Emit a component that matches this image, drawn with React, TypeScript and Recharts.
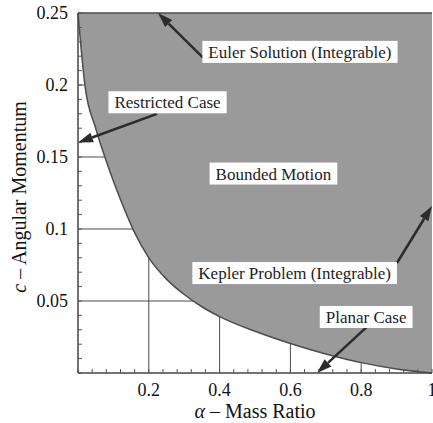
import { useLayoutEffect, useRef, useState } from "react";
import {
  Area,
  AreaChart,
  CartesianGrid,
  Label,
  ReferenceDot,
  ReferenceLine,
  XAxis,
  YAxis,
} from "recharts";

// boundary of the bounded-motion region
const alpha = [0, 0.02, 0.05, 0.08, 0.12, 0.16, 0.2, 0.25, 0.3, 0.35, 0.4, 0.5, 0.6, 0.7, 0.8, 0.9, 1];
const momentum = [0.25, 0.199, 0.17, 0.147, 0.1205, 0.0975, 0.08, 0.0652, 0.0545, 0.046, 0.0392, 0.029, 0.0205, 0.0132, 0.0072, 0.0028, 0];
const C_MAX = 0.25;

const xTicks = [
  0, 0.04, 0.08, 0.12, 0.16, 0.2, 0.24, 0.28, 0.32, 0.36, 0.4, 0.44, 0.48, 0.52, 0.56, 0.6, 0.64,
  0.68, 0.72, 0.76, 0.8, 0.84, 0.88, 0.92, 0.96, 1,
];
const xMajor = [0.2, 0.4, 0.6, 0.8, 1];
const xMajorLabels = ["0.2", "0.4", "0.6", "0.8", "1"];
const yTicks = [
  0, 0.01, 0.02, 0.03, 0.04, 0.05, 0.06, 0.07, 0.08, 0.09, 0.1, 0.11, 0.12, 0.13, 0.14, 0.15, 0.16,
  0.17, 0.18, 0.19, 0.2, 0.21, 0.22, 0.23, 0.24, 0.25,
];
const yMajor = [0.05, 0.1, 0.15, 0.2, 0.25];
const yMajorLabels = ["0.05", "0.1", "0.15", "0.2", "0.25"];
const gridX = [0.2, 0.4, 0.6, 0.8];
const gridY = [0.05, 0.1, 0.15, 0.2];

// annotation boxes
const noteText = [
  "Euler Solution (Integrable)",
  "Restricted Case",
  "Bounded Motion",
  "Kepler Problem (Integrable)",
  "Planar Case",
];
const noteAlpha = [0.627, 0.253, 0.552, 0.612, 0.814];
const noteC = [0.223, 0.188, 0.1385, 0.0694, 0.0389];

// arrows: tail -> tip
const arrowFromAlpha = [0.353, 0.223, 0.901, 0.816];
const arrowFromC = [0.219, 0.18, 0.0764, 0.032];
const arrowToAlpha = [0.226, 0, 1, 0.675];
const arrowToC = [0.25, 0.16, 0.116, 0];

const data = alpha.map((a, i) => ({ a, c: momentum[i] }));

const SERIF = "'Liberation Serif', 'Times New Roman', serif";
const INK = "#2b2b2b";

const pick = (v: number, vals: number[], labels: string[]) => {
  const i = vals.findIndex((m) => Math.abs(m - v) < 1e-9);
  return i >= 0 ? labels[i] : "";
};

function Arrow(props: any) {
  const { x1, y1, x2, y2 } = props;
  const dx = x2 - x1;
  const dy = y2 - y1;
  const len = Math.hypot(dx, dy) || 1;
  const ux = dx / len;
  const uy = dy / len;
  const hl = 15;
  const hw = 5;
  const bx = x2 - ux * hl;
  const by = y2 - uy * hl;
  const pts = `${x2},${y2} ${bx - uy * hw},${by + ux * hw} ${bx + uy * hw},${by - ux * hw}`;
  return (
    <g>
      <line x1={x1} y1={y1} x2={bx} y2={by} stroke={INK} strokeWidth={2.5} />
      <polygon points={pts} fill={INK} />
    </g>
  );
}

function NoteBox({ cx, cy, text }: { cx: number; cy: number; text: string }) {
  const ref = useRef<SVGTextElement>(null);
  const [w, setW] = useState(text.length * 7.5);
  useLayoutEffect(() => {
    if (ref.current) setW(ref.current.getComputedTextLength());
  }, [text]);
  const bw = w + 12;
  const bh = 22;
  return (
    <g>
      <rect x={cx - bw / 2} y={cy - bh / 2} width={bw} height={bh} fill="#ffffff" />
      <text
        ref={ref}
        x={cx}
        y={cy + 6}
        textAnchor="middle"
        fontFamily={SERIF}
        fontSize={17}
        fill="#1e1e1e"
      >
        {text}
      </text>
    </g>
  );
}

export default function App() {
  return (
    <div style={{ position: "absolute", left: 0, top: 0, width: 433, height: 423, background: "#fff" }}>
      <AreaChart width={433} height={423} data={data} margin={{ top: 13, right: 1, left: 0, bottom: 0 }}>
        <CartesianGrid
          horizontalValues={gridY}
          verticalValues={gridX}
          stroke="#4a4a4a"
          strokeWidth={1}
        />
        <XAxis
          dataKey="a"
          type="number"
          domain={[0, 1]}
          ticks={xTicks}
          interval={0}
          tickFormatter={(v) => pick(v, xMajor, xMajorLabels)}
          tickSize={-4}
          tickMargin={14}
          tick={{ fontFamily: SERIF, fontSize: 18, fill: "#111" }}
          tickLine={{ stroke: "#555" }}
          axisLine={{ stroke: "#444", strokeWidth: 1.5 }}
          height={50}
        >
          <Label
            content={(p: any) => {
              const vb = p.viewBox;
              return (
                <text
                  x={vb.x + vb.width / 2}
                  y={vb.y + 45}
                  textAnchor="middle"
                  fontFamily={SERIF}
                  fontSize={20}
                  fill="#111"
                >
                  <tspan fontStyle="italic">α</tspan>
                  <tspan> – Mass Ratio</tspan>
                </text>
              );
            }}
          />
        </XAxis>
        <YAxis
          type="number"
          domain={[0, C_MAX]}
          ticks={yTicks}
          interval={0}
          tickFormatter={(v) => pick(v, yMajor, yMajorLabels)}
          tickSize={-4}
          tickMargin={14}
          tick={{ fontFamily: SERIF, fontSize: 18, fill: "#111" }}
          tickLine={{ stroke: "#555" }}
          axisLine={{ stroke: "#444", strokeWidth: 1.5 }}
          width={78}
        >
          <Label
            content={(p: any) => {
              const vb = p.viewBox;
              const x = vb.x + 26;
              const y = vb.y + vb.height / 2 + 4;
              return (
                <text
                  x={x}
                  y={y}
                  transform={`rotate(-90 ${x} ${y})`}
                  textAnchor="middle"
                  fontFamily={SERIF}
                  fontSize={20}
                  fill="#111"
                >
                  <tspan fontStyle="italic">c</tspan>
                  <tspan> – Angular Momentum</tspan>
                </text>
              );
            }}
          />
        </YAxis>
        <Area
          type="monotone"
          dataKey={(d: { c: number }) => [d.c, C_MAX]}
          fill="#9a9a9a"
          fillOpacity={1}
          stroke="#4d4d4d"
          strokeWidth={1.5}
          dot={false}
          activeDot={false}
          isAnimationActive={false}
        />
        {arrowFromAlpha.map((a, i) => (
          <ReferenceLine
            key={`arrow-${i}`}
            segment={[
              { x: a, y: arrowFromC[i] },
              { x: arrowToAlpha[i], y: arrowToC[i] },
            ]}
            ifOverflow="visible"
            shape={Arrow}
          />
        ))}
        {noteText.map((t, i) => (
          <ReferenceDot
            key={`note-${i}`}
            x={noteAlpha[i]}
            y={noteC[i]}
            ifOverflow="visible"
            shape={(p: any) => <NoteBox cx={p.cx} cy={p.cy} text={t} />}
          />
        ))}
      </AreaChart>
    </div>
  );
}
